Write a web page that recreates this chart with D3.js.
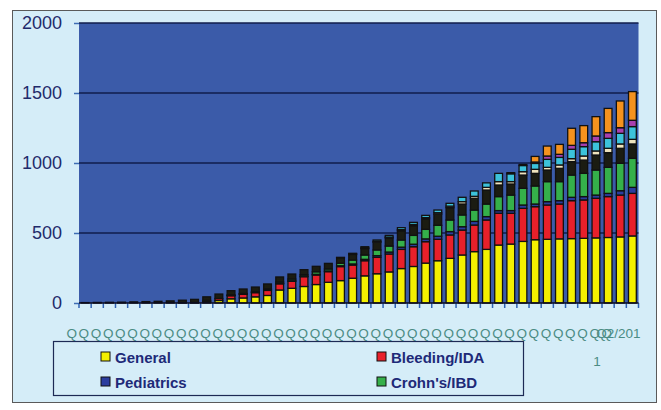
<!DOCTYPE html>
<html>
<head>
<meta charset="utf-8">
<script src="https://cdn.jsdelivr.net/npm/d3@7"></script>
<style>
  body { margin: 0; background: #fff; }
  svg { display: block; font-family: "Liberation Sans", Arial, sans-serif; }
</style>
</head>
<body>
<svg id="chart" width="661" height="410"></svg>
<script>
var quarters = ["Q1/2000","Q2/2000","Q3/2000","Q4/2000","Q1/2001","Q2/2001","Q3/2001","Q4/2001",
  "Q1/2002","Q2/2002","Q3/2002","Q4/2002","Q1/2003","Q2/2003","Q3/2003","Q4/2003",
  "Q1/2004","Q2/2004","Q3/2004","Q4/2004","Q1/2005","Q2/2005","Q3/2005","Q4/2005",
  "Q1/2006","Q2/2006","Q3/2006","Q4/2006","Q1/2007","Q2/2007","Q3/2007","Q4/2007",
  "Q1/2008","Q2/2008","Q3/2008","Q4/2008","Q1/2009","Q2/2009","Q3/2009","Q4/2009",
  "Q1/2010","Q2/2010","Q3/2010","Q4/2010","Q1/2011","Q2/2011"];

var general    = [0,0,0,0,0,0,0,0,0,0, 6,18,30,36,44,54,93,105,118,132, 148,160,177,194,209,222,246,261,285,302, 319,343,367,383,414,421,440,452,455,458, 460,462,465,468,472,479];
var bleeding   = [0,0,0,0,0,0,0,0,0,2, 6,14,22,26,30,36,44,50,70,68, 76,100,94,108,117,128,137,141,153,153, 167,178,190,210,227,220,236,236,245,249, 271,274,283,292,299,304];
var pediatrics = [0,0,0,0,0,0,0,0,0,0, 0,0,2,2,2,3,3,4,4,5, 5,6,8,10,12,14,16,18,20,22, 24,24,26,24,19,19,24,19,24,24, 24,24,23,23,31,43];
var crohns     = [0,0,0,0,0,0,0,0,1,2, 6,0,4,4,6,8,10,12,10,18, 14,18,28,31,41,43,51,63,68,78, 83,84,81,90,100,111,119,129,143,136, 159,166,179,186,196,207];
var otherDark  = [3,4,5,6,8,10,12,15,19,22, 26,32,30,32,32,35,36,36,36,39, 40,40,40,46,55,58,66,70,75,80, 88,78,84,100,83,79,95,90,83,95, 96,95,107,105,107,103];
var otherCream = [0,0,0,0,0,0,0,0,0,0, 0,0,0,0,0,0,0,0,0,0, 0,2,4,5,6,6,8,8,9,10, 11,17,14,19,24,17,24,29,19,24, 21,29,29,31,31,33];
var otherCyan  = [0,0,0,0,0,0,0,0,0,0, 0,0,0,0,0,0,0,0,0,0, 0,0,4,8,10,12,14,15,16,19, 20,31,38,32,59,56,44,42,57,54, 67,67,66,71,76,91];
var otherPurple= [0,0,0,0,0,0,0,0,0,0, 0,0,0,0,0,0,0,0,0,0, 0,0,0,0,0,0,0,0,0,0, 0,0,0,0,0,8,8,10,24,22, 28,28,41,41,40,45];
var otherOrange= [0,0,0,0,0,0,0,0,0,0, 0,0,0,0,0,0,0,0,0,0, 0,0,0,0,0,0,0,0,0,0, 0,0,0,0,0,0,0,40,71,71, 122,122,138,173,191,205];

var seriesNames = ["General","Bleeding/IDA","Pediatrics","Crohn's/IBD","Other 1","Other 2","Other 3","Other 4","Other 5"];
var seriesValues = [general, bleeding, pediatrics, crohns, otherDark, otherCream, otherCyan, otherPurple, otherOrange];
var seriesColors = ["#f4f000","#e8202a","#2b3d9e","#35b04a","#1b1c12","#efe3bd","#3cc2da","#a83fae","#f5921e"];
var yTicks = [0, 500, 1000, 1500, 2000];

var svg = d3.select("#chart");

var plotLeft = 79, plotRight = 638.5, plotTop = 23, plotBottom = 303;

var x = d3.scaleBand()
    .domain(quarters)
    .range([plotLeft, plotRight])
    .paddingInner(0.36)
    .paddingOuter(0.18);

var y = d3.scaleLinear()
    .domain([0, 2000])
    .range([plotBottom, plotTop]);

var rows = quarters.map(function(q, i) {
    var r = { q: q };
    seriesNames.forEach(function(n, k) { r[n] = seriesValues[k][i]; });
    return r;
});

var stack = d3.stack().keys(seriesNames)(rows);

// frame
svg.append("rect")
    .attr("x", 12.5).attr("y", 10.5)
    .attr("width", 644).attr("height", 392)
    .attr("fill", "#d5edf8")
    .attr("stroke", "#5a5a5a");

svg.append("rect")
    .attr("x", plotLeft).attr("y", plotTop)
    .attr("width", plotRight - plotLeft).attr("height", plotBottom - plotTop)
    .attr("fill", "#3b5ba9");

svg.append("g")
    .selectAll("line")
    .data(yTicks.slice(1))
    .join("line")
    .attr("x1", plotLeft).attr("x2", plotRight)
    .attr("y1", d => y(d)).attr("y2", d => y(d))
    .attr("stroke", "#101c4c")
    .attr("stroke-width", 1.6);

var yAxis = svg.append("g")
    .attr("transform", `translate(${plotLeft},0)`)
    .call(d3.axisLeft(y).tickValues(yTicks).tickFormat(d3.format("d")).tickSize(5).tickPadding(12));

yAxis.select(".domain").remove();
yAxis.selectAll(".tick line").attr("stroke", "#3e6db4").attr("stroke-width", 1.5);
yAxis.selectAll(".tick text")
    .attr("fill", "#1f2a6b")
    .style("font-family", "'Liberation Sans', Arial, sans-serif")
    .style("font-size", "18px");

svg.append("g")
    .selectAll("g")
    .data(stack)
    .join("g")
    .attr("fill", (d, i) => seriesColors[i])
    .selectAll("rect")
    .data(d => d.filter(s => s[1] - s[0] > 0))
    .join("rect")
    .attr("x", d => x(d.data.q))
    .attr("width", x.bandwidth())
    .attr("y", d => y(d[1]))
    .attr("height", d => y(d[0]) - y(d[1]))
    .attr("stroke", "#111")
    .attr("stroke-width", 1.3);

// x axis line and ticks on category boundaries
var step = x.step();
var bounds = quarters.map(q => x(q) - (step - x.bandwidth()) / 2).concat([plotRight]);

svg.append("g")
    .selectAll("line")
    .data(bounds)
    .join("line")
    .attr("x1", d => d).attr("x2", d => d)
    .attr("y1", plotBottom).attr("y2", plotBottom + 5)
    .attr("stroke", "#2f62b4")
    .attr("stroke-width", 1.5);

svg.append("line")
    .attr("x1", plotLeft).attr("x2", plotRight)
    .attr("y1", plotBottom).attr("y2", plotBottom)
    .attr("stroke", "#0b0b20")
    .attr("stroke-width", 1.6);

var last = quarters.length - 1;

svg.append("g")
    .selectAll("text")
    .data(quarters.slice(0, last))
    .join("text")
    .attr("x", d => x(d) + x.bandwidth() / 2 - 13.4)
    .attr("y", 338)
    .attr("text-anchor", "middle")
    .attr("fill", "#4b8c84")
    .style("font-size", "13.5px")
    .text(d => d.slice(0, 1));

svg.append("text")
    .attr("x", plotRight + 2)
    .attr("y", 338)
    .attr("text-anchor", "end")
    .attr("fill", "#4b8c84")
    .style("font-size", "13.5px")
    .text(quarters[last].slice(0, 6));

svg.append("text")
    .attr("x", 597)
    .attr("y", 366)
    .attr("text-anchor", "middle")
    .attr("fill", "#4b8c84")
    .style("font-size", "13.5px")
    .text(quarters[last].slice(6));

// legend
svg.append("rect")
    .attr("x", 53.5).attr("y", 341.5)
    .attr("width", 470).attr("height", 54)
    .attr("fill", "none")
    .attr("stroke", "#1d2a55")
    .attr("stroke-width", 1.2);

var legendItems = seriesNames.slice(0, 4).map((n, i) => ({ name: n, color: seriesColors[i], col: i % 2, row: Math.floor(i / 2) }));

var legend = svg.append("g")
    .selectAll("g")
    .data(legendItems)
    .join("g")
    .attr("transform", d => `translate(${d.col ? 377 : 101},${d.row ? 377 : 352})`);

legend.append("rect")
    .attr("width", 9).attr("height", 9)
    .attr("fill", d => d.color)
    .attr("stroke", "#111");

legend.append("text")
    .attr("x", 14)
    .attr("y", 11)
    .attr("fill", "#1e2a78")
    .style("font-size", "15px")
    .style("font-weight", "bold")
    .text(d => d.name);
</script>
</body>
</html>
